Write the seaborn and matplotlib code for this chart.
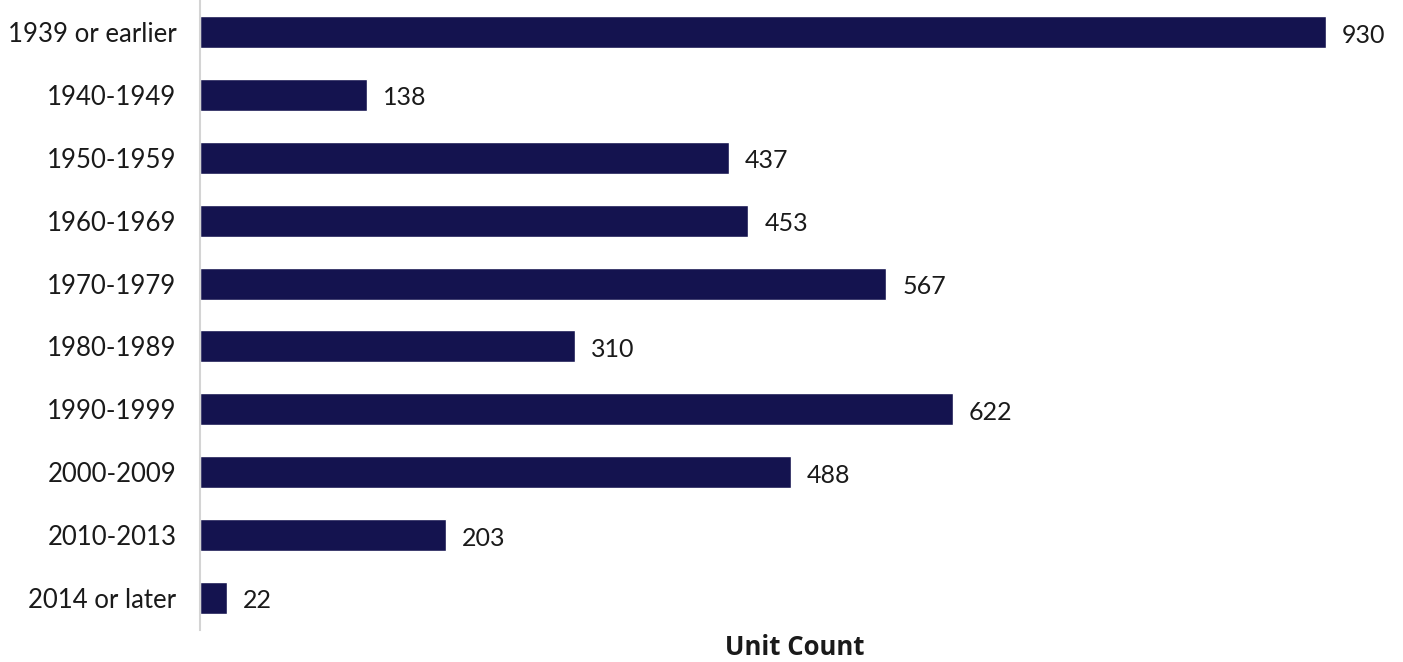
import matplotlib
matplotlib.use("Agg")
import matplotlib.pyplot as plt
import seaborn as sns
import pandas as pd

periods = ["1939 or earlier", "1940-1949", "1950-1959", "1960-1969", "1970-1979",
           "1980-1989", "1990-1999", "2000-2009", "2010-2013", "2014 or later"]
unit_counts = [930, 138, 437, 453, 567, 310, 622, 488, 203, 22]

df = pd.DataFrame({"period": periods, "units": unit_counts})

sns.set_theme(style="white")
plt.rcParams["font.family"] = ["Lato", "DejaVu Sans"]

bar_color = "#14134F"
text_color = "#1a1a1a"

fig = plt.figure(figsize=(14.03, 6.62), dpi=100)
ax = fig.add_axes([200 / 1403, 1 - 630 / 662, 1190 / 1403, 630 / 662])

sns.barplot(data=df, x="units", y="period", orient="h", color=bar_color,
            saturation=1, width=0.51, ax=ax)

ax.set_xlim(0, 1190 / (1126 / 930))
ax.set_ylim(9.509, -0.509)

for i, v in enumerate(unit_counts):
    ax.annotate(f"{v}", xy=(v, i), xytext=(16, -3), textcoords="offset pixels",
                ha="left", va="center", fontsize=18, color=text_color)

ax.set_ylabel("")
ax.set_xlabel("Unit Count", fontsize=18.5, fontweight="bold", color=text_color,
              family=["Open Sans", "DejaVu Sans"])
ax.xaxis.set_label_coords(0.5, -0.027)
ax.xaxis.label.set_va("center")
ax.set_xticks([])
ax.tick_params(axis="y", length=0, pad=17, labelsize=18.5, labelcolor=text_color)

for side in ["top", "right", "bottom"]:
    ax.spines[side].set_visible(False)
ax.spines["left"].set_color("#d4d4d4")
ax.spines["left"].set_linewidth(1.5)

fig.savefig("out.png", dpi=100)
